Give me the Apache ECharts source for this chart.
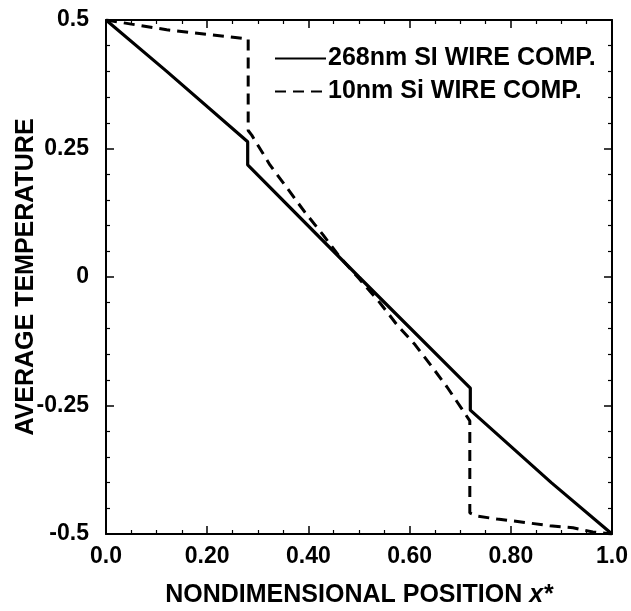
<!DOCTYPE html>
<html>
<head>
<meta charset="utf-8">
<script src="https://cdn.jsdelivr.net/npm/echarts@6/dist/echarts.min.js"></script>
<style>
  html, body { margin: 0; padding: 0; background: #fff; }
  #chart { width: 631px; height: 611px; }
</style>
</head>
<body>
<div id="chart"></div>
<script>
// Nondimensional position along the wire
const xTickLabels = ['0.0', '0.20', '0.40', '0.60', '0.80', '1.0'];

// 268 nm Si wire: average temperature profile (jumps at the interfaces)
const wire268X = [0, 0.12, 0.28, 0.28, 0.50, 0.72, 0.72, 0.88, 1.0];
const wire268Y = [0.5, 0.400, 0.263, 0.218, 0.0, -0.216, -0.259, -0.400, -0.5];

// 10 nm Si wire: average temperature profile
const wire10X = [0, 0.05, 0.12, 0.21, 0.281, 0.281, 0.288, 0.324, 0.358, 0.393, 0.429, 0.462, 0.50,
                 0.542, 0.575, 0.611, 0.646, 0.674, 0.709, 0.719, 0.719, 0.733, 0.773, 0.824, 0.877,
                 0.923, 0.962, 1.0];
const wire10Y = [0.5, 0.492, 0.481, 0.471, 0.463, 0.285, 0.276, 0.218, 0.173, 0.126, 0.082, 0.039, -0.003,
                 -0.051, -0.093, -0.132, -0.177, -0.214, -0.265, -0.280, -0.459, -0.465, -0.471, -0.477, -0.484,
                 -0.488, -0.496, -0.5];

const seriesNames = ['268nm SI WIRE COMP.', '10nm Si WIRE COMP.'];

const pairs = (xs, ys) => xs.map((x, i) => [x, ys[i]]);

const FONT = '"Liberation Sans", Arial, Helvetica, sans-serif';
const ink = '#000';

const chart = echarts.init(document.getElementById('chart'), null, { renderer: 'canvas' });

const baseAxis = {
  axisLine: { show: true, onZero: false, lineStyle: { color: ink, width: 2 } },
  axisTick: { show: true, inside: true, length: 8, lineStyle: { color: ink, width: 1.5 } },
  minorTick: { show: true, length: 4, lineStyle: { color: ink, width: 1.2 } },
  splitLine: { show: false },
  minorSplitLine: { show: false }
};

chart.setOption({
  backgroundColor: '#fff',
  animation: false,
  grid: { left: 106, right: 19, top: 20, bottom: 77, containLabel: false, outerBoundsMode: 'none' },
  legend: {
    orient: 'vertical',
    left: 269,
    top: 41,
    itemWidth: 51,
    itemHeight: 14,
    itemGap: 8,
    itemStyle: { opacity: 0 },
    textStyle: { fontFamily: FONT, fontWeight: 'bold', fontSize: 25, color: ink, lineHeight: 25, padding: [0, 0, 0, -3] },
    data: seriesNames
  },
  xAxis: [
    Object.assign({}, baseAxis, {
      type: 'value', min: 0, max: 1, interval: 0.2, position: 'bottom',
      minorTick: Object.assign({}, baseAxis.minorTick, { splitNumber: 4 }),
      axisLabel: {
        margin: 11, color: ink, fontFamily: FONT, fontWeight: 'bold', fontSize: 23,
        formatter: (v) => xTickLabels[Math.round(v / 0.2)]
      },
      name: 'NONDIMENSIONAL POSITION {it|x*}',
      nameLocation: 'middle',
      nameGap: 49,
      nameMoveOverlap: false,
      nameTextStyle: {
        fontFamily: FONT, fontWeight: 'bold', fontSize: 25, color: ink,
        rich: { it: { fontFamily: FONT, fontWeight: 'bold', fontStyle: 'italic', fontSize: 25, color: ink } }
      }
    }),
    Object.assign({}, baseAxis, {
      type: 'value', min: 0, max: 1, interval: 0.2, position: 'top',
      minorTick: Object.assign({}, baseAxis.minorTick, { splitNumber: 4 }),
      axisLabel: { show: false }
    })
  ],
  yAxis: [
    Object.assign({}, baseAxis, {
      type: 'value', min: -0.5, max: 0.5, interval: 0.25, position: 'left',
      minorTick: Object.assign({}, baseAxis.minorTick, { splitNumber: 5 }),
      axisLabel: { margin: 17, color: ink, fontFamily: FONT, fontWeight: 'bold', fontSize: 23 },
      name: 'AVERAGE TEMPERATURE',
      nameLocation: 'middle',
      nameGap: 67,
      nameRotate: 90,
      nameMoveOverlap: false,
      nameTextStyle: { fontFamily: FONT, fontWeight: 'bold', fontSize: 25, color: ink }
    }),
    Object.assign({}, baseAxis, {
      type: 'value', min: -0.5, max: 0.5, interval: 0.25, position: 'right',
      minorTick: Object.assign({}, baseAxis.minorTick, { splitNumber: 5 }),
      axisLabel: { show: false }
    })
  ],
  series: [
    {
      name: seriesNames[0],
      type: 'line',
      xAxisIndex: 0, yAxisIndex: 0,
      data: pairs(wire268X, wire268Y),
      symbol: 'none',
      lineStyle: { color: ink, width: 3.2, type: 'solid' },
      itemStyle: { color: ink },
      z: 3
    },
    {
      name: seriesNames[1],
      type: 'line',
      xAxisIndex: 0, yAxisIndex: 0,
      data: pairs(wire10X, wire10Y),
      symbol: 'none',
      lineStyle: { color: ink, width: 3, type: [11, 7] },
      itemStyle: { color: ink },
      z: 2
    }
  ]
});
</script>
</body>
</html>
